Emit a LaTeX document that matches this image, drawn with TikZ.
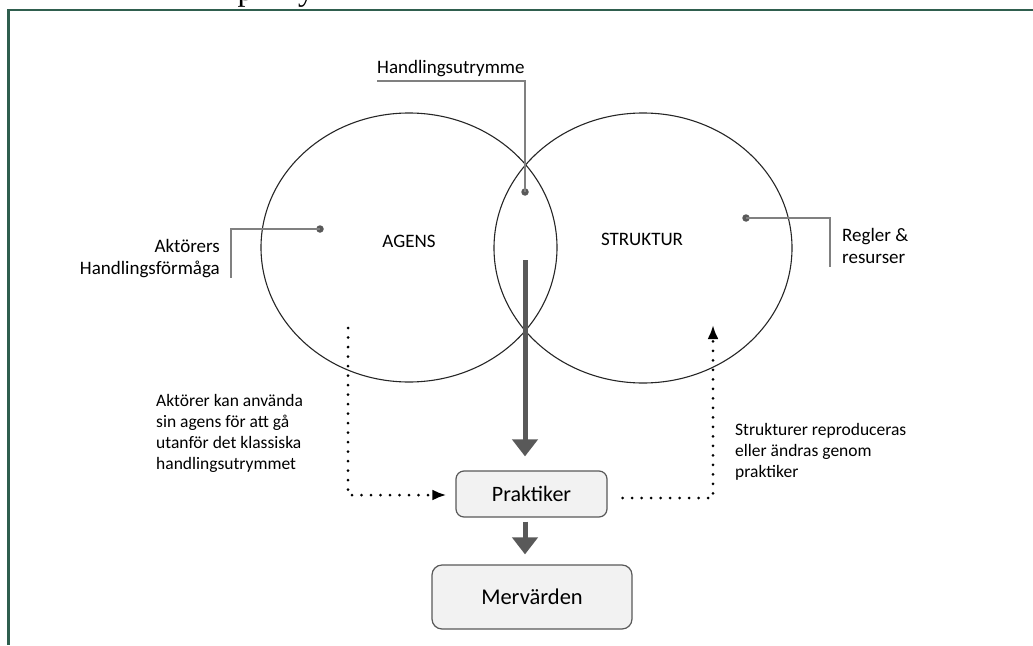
\documentclass[tikz,border=0pt]{standalone}
\usepackage{fontspec}
\setmainfont{Carlito}
\newfontfamily\serifglyph{Liberation Serif}
\usetikzlibrary{arrows.meta,shapes.geometric,calc}
\definecolor{framegreen}{RGB}{47,94,78}
\definecolor{darkg}{RGB}{89,89,89}
\definecolor{boxfill}{RGB}{242,242,242}
\begin{document}
\begin{tikzpicture}[x=1pt,y=-1pt,
  lbl/.style={inner sep=0pt, font=\fontsize{19}{22}\selectfont},
  note/.style={inner sep=0pt, font=\fontsize{17.5}{21}\selectfont, align=left},
  circ/.style={ellipse, draw=black!85, line width=1.1pt, inner sep=0pt},
  leader/.style={draw=black!50, line width=1.2pt},
  pin/.style={circle, fill=darkg, inner sep=0pt, minimum size=7.5pt},
  box/.style={draw=darkg, fill=boxfill, line width=1.2pt, inner sep=0pt},
  fat/.style={draw=darkg, line width=5pt, -{Triangle[width=25pt,length=17pt]}},
  dots/.style={draw=black, line width=3pt, dash pattern=on 0pt off 9.5pt, line cap=round, -{Latex[length=14pt,width=11pt]}},
  frame/.style={draw=framegreen, line width=2.3pt}
]
\useasboundingbox (0,0) rectangle (1033,645);
% frame and cut-off glyphs
\draw[frame] (1033,10) -- (8.5,10) -- (8.5,645);
\begin{scope}
\clip (0,0) rectangle (1033,8.8);
\node[anchor=base west, inner sep=0pt, font=\serifglyph\fontsize{32}{32}\selectfont] (g1) at (237.5,0) {p};
\node[anchor=base west, inner sep=0pt, font=\serifglyph\fontsize{32}{32}\selectfont] (g2) at (298,0) {y};
\end{scope}
% ellipses
\node[circ, minimum width=296pt, minimum height=269pt] (agens) at (409,247.5) {};
\node[circ, minimum width=298pt, minimum height=270pt] (struktur) at (643,248) {};
\node[lbl] (agenstxt) at (409,241) {AGENS};
\node[lbl] (strukturtxt) at (642,239) {STRUKTUR};
% leaders
\node[pin] (p1) at (525,192) {};
\coordinate (h1) at (525,81);
\coordinate (h2) at (377,81);
\draw[leader] (p1.center) -- (h1) -- (h2);
\node[lbl, anchor=base west] (handl) at (377,73) {Handlingsutrymme};
\node[pin] (p2) at (320,229) {};
\coordinate (k1) at (231,229);
\coordinate (k2) at (231,278);
\draw[leader] (p2.center) -- (k1) -- (k2);
\node[lbl, anchor=base east, align=right] (akt) at (220,274) {Aktörers\\Handlingsförmåga};
\node[pin] (p3) at (746,218) {};
\coordinate (r1) at (830,218);
\coordinate (r2) at (830,267);
\draw[leader] (p3.center) -- (r1) -- (r2);
\node[lbl, anchor=base west, align=left] (regler) at (842,263) {Regler \&\\resurser};
% boxes
\node[box, rounded corners=8pt, minimum width=151pt, minimum height=46pt, font=\fontsize{22}{26}\selectfont] (prak) at (531.5,494) {Praktiker};
\node[box, rounded corners=10pt, minimum width=200pt, minimum height=64pt, font=\fontsize{22.5}{26}\selectfont] (merv) at (532,597) {Mervärden};
% thick arrows
\coordinate (a0) at (525,260);
\draw[fat] (a0) -- ($(a0 |- prak.north)+(0,-14)$);
\draw[fat] ($(a0 |- prak.south)+(0,4)$) -- ($(a0 |- merv.north)+(0,-10)$);
% dotted arrows
\coordinate (d1) at (348,328);
\coordinate (d2) at (348,495);
\draw[dots] (d1) -- (d2) -- ($(prak.west |- d2)+(-9,0)$);
\coordinate (d3) at (713,498);
\coordinate (d4) at (713,325);
\draw[dots] ($(prak.east |- d3)+(15,0)$) -- (d3) -- (d4);
% notes
\node[note, anchor=base west] (leftnote) at (156,469) {Aktörer kan använda\\sin agens för att gå\\utanför det klassiska\\handlingsutrymmet};
\node[note, anchor=base west] (rightnote) at (735,477) {Strukturer reproduceras\\eller ändras genom\\praktiker};
\end{tikzpicture}
\end{document}
